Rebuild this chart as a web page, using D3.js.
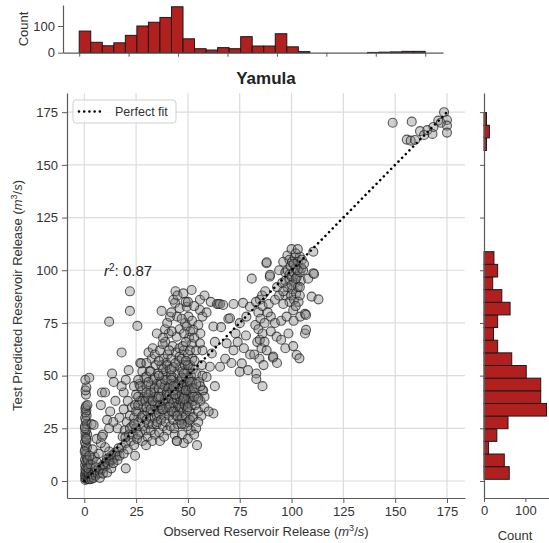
<!DOCTYPE html>
<html>
<head>
<meta charset="utf-8">
<script src="https://cdn.jsdelivr.net/npm/d3@7"></script>
<style>
  body { margin: 0; background: #fff; }
  svg { font-family: "Liberation Sans", Arial, sans-serif; }
</style>
</head>
<body>
<svg id="chart" width="549" height="543"></svg>
<script>
'use strict';

// Chart values
var TITLE = 'Yamula';
var AXIS_TICKS = [0, 25, 50, 75, 100, 125, 150, 175];
var R_SQUARED = 0.87;
var FIT_LINE = [0, 175];

// Marginal histograms: observed release (30 bins over 0-175), predicted release (29 bins of 6 from 0.8)
var observedBinStart = 0;
var observedBinWidth = 175 / 30;
var observedCounts = [81, 39, 26, 37, 65, 100, 114, 132, 172, 52, 15, 10, 19, 15, 60,
  25, 25, 71, 22, 4, 0, 0, 0, 0, 0, 1, 2, 3, 5, 5];
var predictedBinStart = 0.8;
var predictedBinWidth = 6;
var predictedCounts = [61, 49, 11, 31, 58, 151, 137, 137, 102, 67, 33, 23, 33, 63, 43,
  21, 33, 24, 0, 0, 0, 0, 0, 0, 0, 0, 6, 13, 6];
var countTicksTop = [0, 100];
var countTicksRight = [0, 100];

// Scatter points [observed, predicted]
var lowFlowPoints = [
  [0.5,0.5],[1,1],[0.5,1.5],[1.5,2],[0.8,2.5],[0.3,3],[1.2,3.5],[0.7,4.5],[1.8,4],[0.5,5.5],
  [1,6.5],[0.4,7.5],[1.5,8],[0.8,9],[0.3,10],[1.2,11],[0.6,12.5],[1,13.5],[0.4,15],[1.3,16],
  [0.7,17],[0.3,18.5],[1.1,19.5],[0.6,21],[1.4,22],[0.5,23],[1,24.5],[0.3,26],[1.2,27],[0.7,28.5],
  [0.4,30],[1.1,31],[0.6,32.5],[1,33.5],[0.5,34.5],[0.8,35.5],[1.5,36],[0.3,25],[0.9,20],[0.2,14],
  [1.6,10],[2,1],[2.2,3],[1.9,6],[0.8,41],[0.6,43],[1,44.5],[0.5,48],[2.4,49],
  [2.5,0.8],[3,2],[3.5,1],[4,3],[4.5,1.5],[5,4],[5.5,2.5],[6,5],[6.5,3.5],[7,6],[7.5,4],
  [8,5.5],[8.5,7],[9,6],[9.5,8],[10,7],[10.5,9],[11,10.5],[11.5,8],[12,11],[12.5,9.5],
  [13,12],[13.5,10],[14,12.5],[14.5,11],[15,13.5],[15.5,12],[16,14],[16.5,15.5],[3,8],[4,10],
  [5,11.5],[6,9],[7,13],[7.5,1.5],[9,3.5],[11,4],[13,6],[14,8.5],[16,10],[17,12],
  [12,14],[10,16],[8,18],[6,20],[9,22],[12,25],[11,29],[12.5,33],[8,36],[3.5,27],
  [4,15],[2.5,12],[5.5,6.5],[4.5,26.6],[8.5,42],[10,42],[13.4,51],[14.2,47],[8.5,21],[12,75.6],
  [16,25],[17,30],[15,38],[14,28]
];

var midFlowPoints = [
  [18,16],[18.5,21],[19,13],[19.5,24],[20,18],[20.5,28],[21,15],[21.5,22],[22,31],[22.5,19],
  [23,26],[19,34],[20,6],[18,61],[22,80.7],[22,90],[21.4,52.6],[19.8,20.7],[19,42],[21,38],
  [18,45],[20,48],[22,25],[23,35],
  [23.5,22],[24,30],[24,17],[24.5,36],[25,25],[25,41],[25.5,20],[26,28],[26,33],[26.5,46],
  [27,23],[27,38],[27.5,30],[27.5,55.8],[28,19],[28,43],[28.5,26],[28.5,35],[29,31],[29,49],
  [24.5,12],[25.6,73.6],[27,56],[26,48],[26,40],[24,45],[28,52],[24,27],[26,22],[25,33],
  [26,36],[27,45],[28,31],[29,40],[28,38],
  [29.5,24],[29.5,38],[30,29],[30,45],[30.5,21],[30.5,33],[31,41],[31,27],[31.5,36],[31.5,52],
  [32,30],[32,24],[32,45],[32.5,39],[32.5,58],[33,33],[33,27],[33.5,42],[33.5,48],[34,36],
  [34,30],[34,22],[34.5,40],[34.5,55],[35,34],[35,46],[30,49.5],[31,61],[33,63],[29.8,17],
  [32.8,19],[34.8,27],[30.8,39.5],[30,56],[32,52],[34,60],[30,35],[31,47],[32,34],[33,38],
  [34,44],[35,31],[34,49],[32,42],[30,42],
  [35.3,28],[35.5,39],[35.6,51],[36,32],[36,44],[36.2,23],[36.5,36],[36.5,62],[36.8,47],[37,29],
  [37,40],[37.2,55],[37.3,80.7],[37.5,34],[37.7,43],[38,26],[38,50],[38.2,37],[38.4,58],[38.6,31],
  [38.8,45],[39,39],[39,66],[39.2,28],[39.4,52],[39.6,35],[39.8,42],[40,24],[40,48],[40.2,60],
  [40.4,33],[40.5,38],[40.6,44],[40.7,70],[36.5,19],[38.5,21],[37.8,65],[39.5,56],[36,57],[35,70],
  [38,68],[39,72],[40,75],[36,40],[37,46],[38,34],[39,48],[40,41],[40,55],[38,53],[36,50],
  [41,31],[41,41],[41.2,53],[41.4,77.9],[41.5,36],[41.6,26],[41.8,46],[42,39],[42,58],[42.3,33],
  [42.5,43],[42.6,64],[42.8,29],[43,37],[43,49],[43.2,54],[43.5,41],[43.6,22],[43.8,84.5],[44,35],
  [44,45],[44.2,61],[44.4,31],[44.6,68.5],[44.6,19],[44.8,39],[45,51],[45,27],[45.2,43],[45.4,36],
  [45.5,57],[45.6,47],[45.8,33],[46,40],[46,72],[46.2,29],[46.3,54],[46.4,44],[46.5,38],[42.2,71],
  [44.8,78],[43.4,25],[45.9,63],[41.8,50],[41,62],[42,80],[43,86],[44,90],[45,88],[46,82],
  [41,35],[42,48],[43,33],[44,41],[45,46],[46,35],[42,53],[44,56],[46,59],[43,45],[45,31],
  [46.8,35],[46.9,48],[47,41],[47,58],[47.2,30],[47.3,52],[47.5,38],[47.5,44],[47.8,89],[47.8,33],
  [48,46],[48,62],[48.2,27],[48.3,40],[48.5,36],[48.5,55],[48.6,75],[48.8,43],[49,31],[49,49],
  [49.2,38],[49.4,73.3],[49.4,82.7],[49.5,45],[49.6,34],[49.8,52],[50,40],[50,28],[50,60],[50.2,43],
  [50.4,37],[50.5,48],[50.6,68],[50.8,33],[51,45],[51,55],[51.2,39],[51.4,24],[51.5,50],[51.6,42],
  [51.8,90.6],[51.8,36],[52,47],[52,65],[52.2,30],[52.3,41],[52.4,53],[52.5,38],[47.6,64],[48.9,85],
  [50.3,78],[51.1,71],[49.7,26],[52.1,58],[47.1,22],[50.9,29],[48.1,70],[47,77],[49,66],[50,85],
  [52,76],[50,20],[48,18],[47,49],[48,39],[49,43],[50,35],[51,47],[52,44],[48,51],[50,55],
  [47,27],[49,57],[51,62],
  [52.6,71.7],[52.6,30.5],[53,44],[53.5,36],[54,51],[54.4,17],[54.5,40],[55,33],[55.5,47],[55.8,81.1],
  [55.8,86],[55.8,65.3],[56,38],[56.5,31],[57,43],[57.4,43],[58,35],[53.2,57],[56.8,55],[44.7,19],
  [53,68],[54,62],[55,74],[56,70],[57,62],[58,88],[57,78],[53,83],[58,40],[57,50],[56,45],
  [55,28],[54,25],[53,22],[53,40],[54,46],[55,39]
];

var highFlowPoints = [
  [59,49.4],[59,80],[60.6,54.2],[61.5,60.5],[62.3,73.3],[62.3,32],[60,33],[63,45],[63,66],[61,85],
  [64,84],[64.7,84],[65.5,54.2],[65.5,84],[67,83.5],[68.7,65.3],[69.5,77],[68,58],[66,73],
  [70.3,77.2],[72,62],[73,70],[75,74.9],[75,51.8],[74,66],[71,56],[72,84],
  [76,55.8],[76.6,84.5],[78.2,78],[79,52.6],[79.9,82.7],[80.8,96],[78,69],[80,60],[77,63],
  [82,60],[82.5,74],[83,51],[83,48.4],[83.5,66],[84,80],[84,72],[84.5,58],[84.7,86],[84.7,67],
  [85,77],[85.5,63],[85.8,88],[86,70],[86,83],[86.5,55],[87,75],[87,66],[87.3,90],[82.8,85],
  [86,45],[88,62],[89,84],[90,78],[92,75],
  [87.9,103.3],[88,103.8],[88.5,80],[89.5,97],[89.6,97.8],[90,71],[91,58.5],[91.2,59],[92,86],[92.8,68.5],
  [93,92],[94,100],[96,104],[97,88],[98,107],[99,85],[97,63],[95,67],[93,56],
  [94,88],[95,76],[95.5,94],[96,84],[97,99],[97.6,78],[98,92],[99,95.5],[98.5,70],
  [98,100],[99,98],[96,90],[97,95],[99,105],
  [99.5,102],[99.8,88],[100,97],[100.3,104],[100.5,91],[100.8,81],[100.8,64],[101,99],[101.2,86],[101.5,106],
  [101.8,94],[102,101],[102.2,89],[102.5,59.8],[102.6,97],[103,104],[103,92],[103.4,85],[103.8,58.2],[104,106.5],
  [104,99],[104.5,95],[104.8,101],[104.2,78],[100,110],[101,76],[102,108],[103,110],[104,88],[102,83],
  [100,93],[101,103],[102,96],[103,100],[104,92],
  [105.6,100],[106.5,79.3],[106.5,70],[107,71.7],[107,78.8],[108,96],[109.7,87.5],[110.5,98.6],[110.5,108.8],[110.9,98.2],
  [105,105],[106,103],[113,86.2]
];

var peakFlowPoints = [
  [148.8,170],[158,170.5],[155.6,162],[157.5,161.5],[159.6,161.8],[162,166],[164,164.2],[165.5,166.5],
  [168,164.7],[168.5,168],[170.8,171],[173.6,175],[175,171.3],[175,168.6],[175,165.3],[172,170]
];

var BAR_COLOR = '#b11f1f';
var AXIS_COLOR = '#5a5a5a';
var TEXT_COLOR = '#333';
var GRID_COLOR = '#dcdcdc';

var svg = d3.select('#chart');

// Scales
var x = d3.scaleLinear().domain([-8.35, 183.7]).range([67, 465]);
var y = d3.scaleLinear().domain([-8.07, 184.1]).range([498, 93]);
var xTop = d3.scaleLinear().domain([-8.2, 184]).range([63, 443]);
var yTop = d3.scaleLinear().domain([0, 178.6]).range([52.7, 5]);
var xRight = d3.scaleLinear().domain([0, 157]).range([484, 549]);

function styleAxis(g) {
  g.select('.domain').attr('stroke', AXIS_COLOR).attr('stroke-width', 1.2);
  g.selectAll('.tick line').attr('stroke', AXIS_COLOR).attr('stroke-width', 1);
  g.selectAll('.tick text').attr('fill', TEXT_COLOR).style('font-size', '13px');
}

// Main panel: grid
var mainPanel = svg.append('g');
mainPanel.append('g').selectAll('line')
  .data(AXIS_TICKS)
  .enter().append('line')
  .attr('x1', function(d) { return x(d); })
  .attr('x2', function(d) { return x(d); })
  .attr('y1', y.range()[0])
  .attr('y2', y.range()[1])
  .attr('stroke', GRID_COLOR)
  .attr('stroke-width', 1.2);
mainPanel.append('g').selectAll('line')
  .data(AXIS_TICKS)
  .enter().append('line')
  .attr('y1', function(d) { return y(d); })
  .attr('y2', function(d) { return y(d); })
  .attr('x1', x.range()[0])
  .attr('x2', x.range()[1])
  .attr('stroke', GRID_COLOR)
  .attr('stroke-width', 1.2);

// Scatter
var allPoints = lowFlowPoints.concat(midFlowPoints, highFlowPoints, peakFlowPoints);
mainPanel.append('g').selectAll('circle')
  .data(allPoints)
  .enter().append('circle')
  .attr('cx', function(d) { return x(d[0]); })
  .attr('cy', function(d) { return y(d[1]); })
  .attr('r', 4.5)
  .style('fill', 'rgba(128, 128, 128, 0.38)')
  .style('stroke', 'rgba(30, 30, 30, 0.72)')
  .style('stroke-width', 1.1);

// Perfect fit line
mainPanel.append('line')
  .attr('x1', x(FIT_LINE[0]))
  .attr('y1', y(FIT_LINE[0]))
  .attr('x2', x(FIT_LINE[1]))
  .attr('y2', y(FIT_LINE[1]))
  .attr('stroke', '#000')
  .attr('stroke-width', 2.6)
  .attr('stroke-linecap', 'round')
  .attr('stroke-dasharray', '0.01 5.2');

// Axes
mainPanel.append('g')
  .attr('transform', 'translate(0,' + y.range()[0] + ')')
  .call(d3.axisBottom(x).tickValues(AXIS_TICKS).tickSize(5).tickSizeOuter(0).tickPadding(4))
  .call(styleAxis);
mainPanel.append('g')
  .attr('transform', 'translate(' + x.range()[0] + ',0)')
  .call(d3.axisLeft(y).tickValues(AXIS_TICKS).tickSize(5).tickSizeOuter(0).tickPadding(4))
  .call(styleAxis);

// Title, labels
svg.append('text')
  .attr('x', (x.range()[0] + x.range()[1]) / 2)
  .attr('y', 84)
  .attr('text-anchor', 'middle')
  .style('font-size', '17px')
  .style('font-weight', 'bold')
  .attr('fill', '#222')
  .text(TITLE);

function unitLabel(sel, prefix) {
  sel.append('tspan').text(prefix + ' (');
  sel.append('tspan').style('font-style', 'italic').text('m');
  sel.append('tspan').attr('baseline-shift', 'super').style('font-size', '9px').text('3');
  sel.append('tspan').text('/');
  sel.append('tspan').style('font-style', 'italic').text('s');
  sel.append('tspan').text(')');
}

svg.append('text')
  .attr('x', (x.range()[0] + x.range()[1]) / 2)
  .attr('y', 536)
  .attr('text-anchor', 'middle')
  .attr('fill', TEXT_COLOR)
  .style('font-size', '13px')
  .call(unitLabel, 'Observed Reservoir Release');

svg.append('text')
  .attr('transform', 'translate(22,' + (y.range()[0] + y.range()[1]) / 2 + ') rotate(-90)')
  .attr('text-anchor', 'middle')
  .attr('fill', TEXT_COLOR)
  .style('font-size', '13px')
  .call(unitLabel, 'Test Predicted Reservoir Release');

// r squared annotation
var r2 = svg.append('text')
  .attr('x', x(9.5))
  .attr('y', y(97.5))
  .attr('fill', '#222')
  .style('font-size', '15px');
r2.append('tspan').style('font-style', 'italic').text('r');
r2.append('tspan').attr('baseline-shift', 'super').style('font-size', '10px').text('2');
r2.append('tspan').text(': ' + R_SQUARED.toFixed(2));

// Legend
var legend = svg.append('g');
legend.append('rect')
  .attr('x', 73).attr('y', 100)
  .attr('width', 103).attr('height', 23)
  .attr('rx', 3)
  .attr('fill', 'rgba(255,255,255,0.85)')
  .attr('stroke', '#d0d0d0');
legend.append('line')
  .attr('x1', 79).attr('x2', 101)
  .attr('y1', 111.5).attr('y2', 111.5)
  .attr('stroke', '#000')
  .attr('stroke-width', 2.6)
  .attr('stroke-linecap', 'round')
  .attr('stroke-dasharray', '0.01 5.2');
legend.append('text')
  .attr('x', 115).attr('y', 116)
  .attr('fill', TEXT_COLOR)
  .style('font-size', '12.5px')
  .text('Perfect fit');

// Top marginal histogram
var topPanel = svg.append('g');
topPanel.append('g').selectAll('rect')
  .data(observedCounts.map(function(c, i) { return {i: i, count: c}; })
    .filter(function(d) { return d.count > 0; }))
  .enter().append('rect')
  .attr('x', function(d) { return xTop(observedBinStart + d.i * observedBinWidth); })
  .attr('width', xTop(observedBinWidth) - xTop(0))
  .attr('y', function(d) { return yTop(d.count); })
  .attr('height', function(d) { return yTop(0) - yTop(d.count); })
  .attr('fill', BAR_COLOR)
  .attr('stroke', '#1a1a1a')
  .attr('stroke-width', 1);
topPanel.append('g')
  .attr('transform', 'translate(0,' + yTop.range()[0] + ')')
  .call(d3.axisBottom(xTop).tickValues(AXIS_TICKS).tickSize(4).tickSizeOuter(0).tickFormat(''))
  .call(styleAxis);
topPanel.append('g')
  .attr('transform', 'translate(' + xTop.range()[0] + ',0)')
  .call(d3.axisLeft(yTop).tickValues(countTicksTop).tickSize(5).tickSizeOuter(0).tickPadding(3))
  .call(styleAxis);
svg.append('text')
  .attr('transform', 'translate(28,29) rotate(-90)')
  .attr('text-anchor', 'middle')
  .attr('fill', TEXT_COLOR)
  .style('font-size', '13px')
  .text('Count');

// Right marginal histogram
var rightPanel = svg.append('g');
rightPanel.append('g').selectAll('rect')
  .data(predictedCounts.map(function(c, i) { return {i: i, count: c}; })
    .filter(function(d) { return d.count > 0; }))
  .enter().append('rect')
  .attr('x', xRight(0))
  .attr('width', function(d) { return xRight(d.count) - xRight(0); })
  .attr('y', function(d) { return y(predictedBinStart + (d.i + 1) * predictedBinWidth); })
  .attr('height', y(0) - y(predictedBinWidth))
  .attr('fill', BAR_COLOR)
  .attr('stroke', '#1a1a1a')
  .attr('stroke-width', 1);
rightPanel.append('g')
  .attr('transform', 'translate(' + xRight.range()[0] + ',0)')
  .call(d3.axisLeft(y).tickValues(AXIS_TICKS).tickSize(4).tickSizeOuter(0).tickFormat(''))
  .call(styleAxis);
rightPanel.append('g')
  .attr('transform', 'translate(0,' + y.range()[0] + ')')
  .call(d3.axisBottom(xRight).tickValues(countTicksRight).tickSize(4).tickSizeOuter(0).tickPadding(4))
  .call(styleAxis);
svg.append('text')
  .attr('x', 515)
  .attr('y', 540)
  .attr('text-anchor', 'middle')
  .attr('fill', TEXT_COLOR)
  .style('font-size', '13px')
  .text('Count');
</script>
</body>
</html>
